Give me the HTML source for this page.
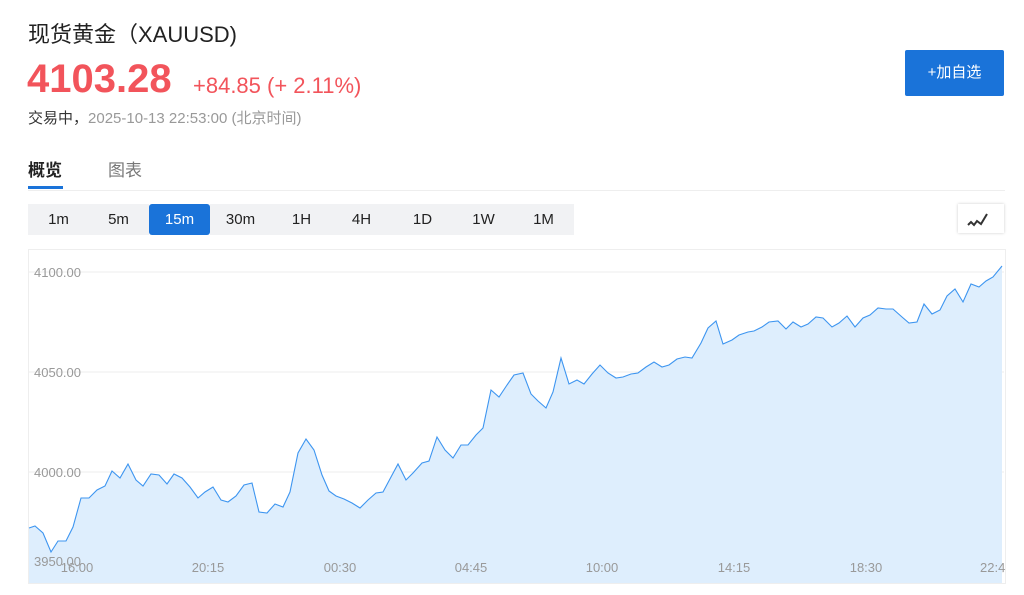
<!DOCTYPE html>
<html><head><meta charset="utf-8"><style>
body{margin:0;width:1024px;height:595px;background:#fff;font-family:"Liberation Sans","Noto Sans CJK SC",sans-serif;position:relative;overflow:hidden}
.a{position:absolute;white-space:nowrap}
.tb{position:absolute;top:204px;height:31px;width:61px;line-height:31px;text-align:center;font-size:15px;color:#222;background:#f1f2f4}
</style></head><body>
<div class="a" style="left:28px;top:17px;font-size:22px;color:#222">现货黄金（XAUUSD)</div>
<div class="a" style="left:27px;top:57px;font-size:40px;font-weight:bold;color:#f2545b">4103.28</div>
<div class="a" style="left:193px;top:73px;font-size:22px;color:#f2545b">+84.85 (+ 2.11%)</div>
<div class="a" style="left:28px;top:107px;font-size:15px;color:#333;font-weight:normal">交易中，<span style="color:#999">2025-10-13 22:53:00 (北京时间)</span></div>
<div class="a" style="left:905px;top:50px;width:99px;height:46px;background:#1a73d9;color:#fff;font-size:15px;line-height:46px;text-align:center;border-radius:2px">+加自选</div>
<div class="a" style="left:28px;top:156px;font-size:17px;font-weight:bold;color:#222">概览</div>
<div class="a" style="left:108px;top:156px;font-size:17px;color:#777">图表</div>
<div class="a" style="left:28px;top:186px;width:35px;height:3px;background:#1a73d9"></div>
<div class="a" style="left:28px;top:190px;width:977px;height:1px;background:#eee"></div>
<div class="tb" style="left:28px">1m</div><div class="tb" style="left:88px">5m</div>
<div class="tb" style="left:149px;background:#1a73d9;color:#fff;border-radius:3px">15m</div>
<div class="tb" style="left:210px">30m</div><div class="tb" style="left:271px">1H</div><div class="tb" style="left:331px">4H</div>
<div class="tb" style="left:392px">1D</div><div class="tb" style="left:453px">1W</div><div class="tb" style="left:513px">1M</div>
<div class="a" style="left:958px;top:204px;width:46px;height:29px;background:#fff;box-shadow:0 0 3px rgba(0,0,0,.2)">
<svg width="46" height="29"><polyline points="10,21 13,18 16,21 19,17 23,20 29,10" fill="none" stroke="#333" stroke-width="2"/></svg></div>
<svg class="a" style="left:0;top:0" width="1024" height="595">
<rect x="28.5" y="249.5" width="977" height="334" fill="#fff" stroke="#eee"/>
<g stroke="#ececec"><line x1="29" y1="272" x2="1004" y2="272"/><line x1="29" y1="372" x2="1004" y2="372"/><line x1="29" y1="472" x2="1004" y2="472"/><line x1="29" y1="572" x2="1004" y2="572"/></g>
<polygon fill="#deeefd" points="29,583 29,528 35,526 43,533 51,552 58,541 66,541 73,527 81,498 89,498 97,490 105,486 112,471 120,478 128,464 136,480 143,486 151,474 159,475 167,484 174,474 182,478 190,487 198,498 205,492 213,487 221,500 228,502 236,496 244,485 252,483 259,512 267,513 275,504 283,507 290,492 298,453 306,439 314,450 322,475 329,491 336,496 344,499 352,503 360,508 368,500 376,493 383,492 391,477 398,464 406,480 413,473 422,463 429,461 437,437 445,450 453,458 461,445 468,445 476,435 483,428 491,390 499,397 507,385 514,375 523,373 531,394 538,401 546,408 553,392 561,358 569,384 577,380 584,384 592,374 600,365 608,373 616,378 623,377 631,374 638,373 646,367 654,362 662,367 669,365 677,359 685,357 692,358 701,343 708,328 716,321 723,344 732,340 739,335 748,332 754,331 762,327 769,322 778,321 786,329 793,322 801,327 808,324 816,317 823,318 832,327 839,323 847,316 855,327 863,318 870,315 878,308 886,309 893,309 902,317 909,323 917,322 924,304 932,314 940,310 947,296 955,289 963,302 971,284 979,287 986,281 993,277 1002,266 1002,583"/>
<polyline fill="none" stroke="#3d95f0" stroke-width="1.1" points="29,528 35,526 43,533 51,552 58,541 66,541 73,527 81,498 89,498 97,490 105,486 112,471 120,478 128,464 136,480 143,486 151,474 159,475 167,484 174,474 182,478 190,487 198,498 205,492 213,487 221,500 228,502 236,496 244,485 252,483 259,512 267,513 275,504 283,507 290,492 298,453 306,439 314,450 322,475 329,491 336,496 344,499 352,503 360,508 368,500 376,493 383,492 391,477 398,464 406,480 413,473 422,463 429,461 437,437 445,450 453,458 461,445 468,445 476,435 483,428 491,390 499,397 507,385 514,375 523,373 531,394 538,401 546,408 553,392 561,358 569,384 577,380 584,384 592,374 600,365 608,373 616,378 623,377 631,374 638,373 646,367 654,362 662,367 669,365 677,359 685,357 692,358 701,343 708,328 716,321 723,344 732,340 739,335 748,332 754,331 762,327 769,322 778,321 786,329 793,322 801,327 808,324 816,317 823,318 832,327 839,323 847,316 855,327 863,318 870,315 878,308 886,309 893,309 902,317 909,323 917,322 924,304 932,314 940,310 947,296 955,289 963,302 971,284 979,287 986,281 993,277 1002,266"/>
<g font-family="Liberation Sans" font-size="13" fill="#999">
<text x="34" y="277">4100.00</text><text x="34" y="377">4050.00</text><text x="34" y="477">4000.00</text><text x="34" y="566">3950.00</text>
<text x="77" y="572" text-anchor="middle">16:00</text><text x="208" y="572" text-anchor="middle">20:15</text><text x="340" y="572" text-anchor="middle">00:30</text><text x="471" y="572" text-anchor="middle">04:45</text><text x="602" y="572" text-anchor="middle">10:00</text><text x="734" y="572" text-anchor="middle">14:15</text><text x="866" y="572" text-anchor="middle">18:30</text><text x="980" y="572">22:4</text>
</g></svg>
</body></html>
